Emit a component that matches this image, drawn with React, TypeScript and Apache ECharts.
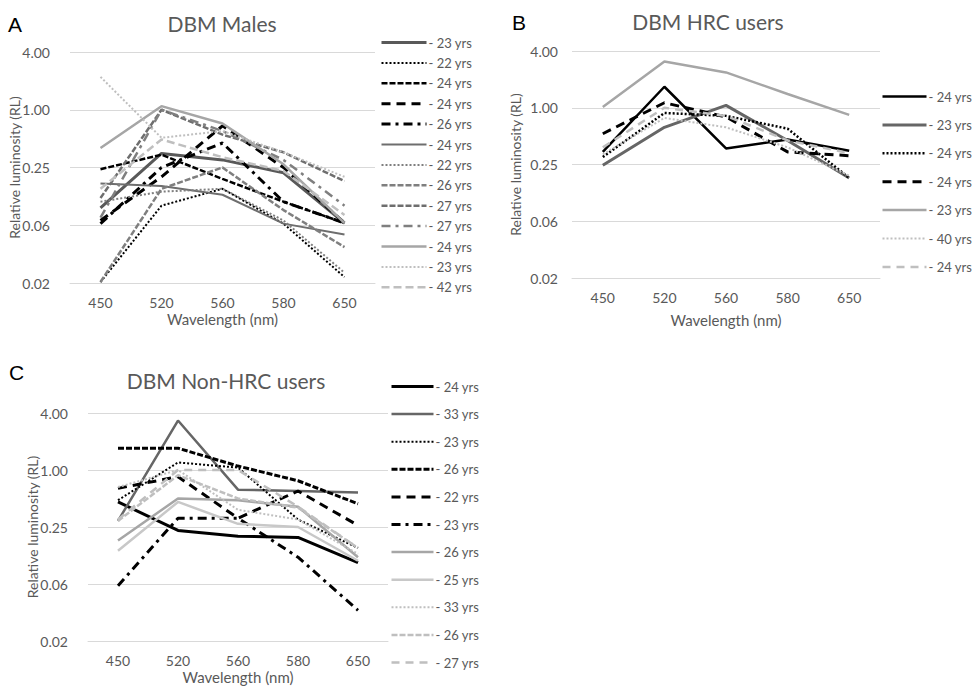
import React, { useEffect, useRef } from 'react';
import * as echarts from 'echarts';

// ---------- data ----------
const wavelengths = ['450', '520', '560', '580', '650'];
const yMin = 1 / 64;
const yMax = 4;

const malesAges = ['23', '22', '24', '24', '26', '24', '22', '26', '27', '27', '24', '23', '42'];
const malesRL = [
  [0.095, 0.35, 0.3, 0.22, 0.066],
  [0.016, 0.1, 0.15, 0.065, 0.018],
  [0.24, 0.34, 0.19, 0.11, 0.066],
  [0.07, 0.2, 0.68, 0.25, 0.066],
  [0.065, 0.25, 0.45, 0.11, 0.066],
  [0.17, 0.16, 0.13, 0.065, 0.05],
  [0.11, 0.14, 0.15, 0.07, 0.02],
  [0.016, 0.15, 0.25, 0.09, 0.037],
  [0.12, 1.0, 0.55, 0.36, 0.18],
  [0.075, 1.0, 0.6, 0.3, 0.1],
  [0.4, 1.09, 0.72, 0.27, 0.066],
  [2.2, 0.51, 0.6, 0.36, 0.2],
  [0.15, 0.49, 0.32, 0.23, 0.08],
];

const hrcAges = ['24', '23', '24', '24', '23', '40', '24'];
const hrcRL = [
  [0.34, 1.67, 0.37, 0.46, 0.35],
  [0.245, 0.62, 1.06, 0.45, 0.18],
  [0.3, 0.88, 0.82, 0.6, 0.18],
  [0.53, 1.13, 0.8, 0.34, 0.31],
  [1.02, 3.1, 2.37, 1.4, 0.84],
  [0.32, 0.78, 0.62, 0.38, 0.19],
  [0.38, 1.0, 0.82, 0.45, 0.33],
];

const nonHrcAges = ['24', '33', '23', '26', '22', '23', '26', '25', '33', '26', '27'];
const nonHrcRL = [
  [0.46, 0.23, 0.2, 0.194, 0.105],
  [0.29, 3.33, 0.62, 0.6, 0.58],
  [0.48, 1.2, 1.06, 0.3, 0.15],
  [1.7, 1.7, 1.1, 0.77, 0.44],
  [0.64, 0.85, 0.31, 0.6, 0.26],
  [0.06, 0.31, 0.31, 0.12, 0.033],
  [0.18, 0.5, 0.48, 0.41, 0.12],
  [0.14, 0.46, 0.27, 0.25, 0.11],
  [0.66, 1.0, 0.38, 0.3, 0.13],
  [0.29, 0.88, 0.5, 0.4, 0.15],
  [0.3, 1.0, 1.0, 0.41, 0.15],
];

// ---------- styles ----------
type LS = { color: string; width: number; type: any };
const DOT = [2, 2];
const SDASH = [6, 2];
const LDASH = [9, 6];
const DASHDOT = [9, 5, 3, 5];

const malesStyles: LS[] = [
  { color: '#595959', width: 3, type: 'solid' },
  { color: '#000000', width: 2, type: DOT },
  { color: '#000000', width: 2.5, type: SDASH },
  { color: '#000000', width: 3, type: LDASH },
  { color: '#000000', width: 3, type: DASHDOT },
  { color: '#6e6e6e', width: 2, type: 'solid' },
  { color: '#7f7f7f', width: 2, type: DOT },
  { color: '#7f7f7f', width: 2.5, type: SDASH },
  { color: '#6e6e6e', width: 2.5, type: SDASH },
  { color: '#7f7f7f', width: 2.5, type: DASHDOT },
  { color: '#a6a6a6', width: 2.5, type: 'solid' },
  { color: '#bfbfbf', width: 2, type: DOT },
  { color: '#bfbfbf', width: 2.5, type: [8, 4] },
];

const hrcStyles: LS[] = [
  { color: '#000000', width: 2.5, type: 'solid' },
  { color: '#666666', width: 3, type: 'solid' },
  { color: '#000000', width: 2.5, type: DOT },
  { color: '#000000', width: 3, type: LDASH },
  { color: '#a6a6a6', width: 2.5, type: 'solid' },
  { color: '#bfbfbf', width: 2, type: DOT },
  { color: '#bfbfbf', width: 2.5, type: [8, 6] },
];

const nonHrcStyles: LS[] = [
  { color: '#000000', width: 3, type: 'solid' },
  { color: '#666666', width: 2.5, type: 'solid' },
  { color: '#000000', width: 2, type: DOT },
  { color: '#000000', width: 3, type: SDASH },
  { color: '#000000', width: 3, type: LDASH },
  { color: '#000000', width: 3, type: DASHDOT },
  { color: '#a6a6a6', width: 2.5, type: 'solid' },
  { color: '#c8c8c8', width: 2.5, type: 'solid' },
  { color: '#bfbfbf', width: 2, type: DOT },
  { color: '#bfbfbf', width: 2.5, type: SDASH },
  { color: '#bfbfbf', width: 2.5, type: [8, 6] },
];

const FONT = 'Lato, "Open Sans", sans-serif';
const GRAY = '#595959';

function buildSeries(prefix: string, ages: string[], values: number[][], styles: LS[], idx: number) {
  return ages.map((age, i) => ({
    type: 'line',
    name: `${prefix}${i}|- ${age} yrs`,
    xAxisIndex: idx,
    yAxisIndex: idx,
    data: values[i],
    symbol: 'none',
    showSymbol: false,
    color: styles[i].color,
    itemStyle: { color: styles[i].color },
    lineStyle: { color: styles[i].color, width: styles[i].width, type: styles[i].type, cap: 'butt' },
    emphasis: { disabled: true },
  }));
}

function xAxis(idx: number, nameGap: number) {
  return {
    type: 'category',
    gridIndex: idx,
    data: wavelengths,
    boundaryGap: true,
    name: 'Wavelength (nm)',
    nameLocation: 'middle',
    nameGap,
    nameMoveOverlap: false,
    nameTextStyle: { fontSize: 15, color: GRAY, fontFamily: FONT },
    axisLine: { show: true, lineStyle: { color: '#d9d9d9' } },
    axisTick: { show: false },
    axisLabel: { fontSize: 14, color: GRAY, margin: 12, fontFamily: FONT },
    splitLine: { show: false },
  };
}

function yAxis(idx: number, nameGap: number, margin: number) {
  return {
    type: 'log',
    logBase: 4,
    gridIndex: idx,
    min: yMin,
    max: yMax,
    name: 'Relative luminosity (RL)',
    nameLocation: 'middle',
    nameRotate: 90,
    nameGap,
    nameMoveOverlap: false,
    nameTextStyle: { fontSize: 14, color: GRAY, fontFamily: FONT },
    axisLine: { show: false },
    axisTick: { show: false },
    axisLabel: {
      fontSize: 14,
      color: GRAY,
      margin,
      fontFamily: FONT,
      formatter: (v: number) => v.toFixed(2),
    },
    splitLine: { show: true, lineStyle: { color: '#d9d9d9', width: 1 } },
  };
}

function legend(prefix: string, ages: string[], left: number, top: number, gap: number, w: number) {
  return {
    orient: 'vertical',
    left,
    top,
    itemGap: gap,
    itemWidth: w,
    itemHeight: 14,
    padding: 0,
    selectedMode: false,
    data: ages.map((a, i) => `${prefix}${i}|- ${a} yrs`),
    formatter: (n: string) => n.split('|')[1],
    itemStyle: { opacity: 0, borderWidth: 0 },
    lineStyle: { width: 'inherit' },
    textStyle: { fontSize: 13, color: GRAY, fontFamily: FONT, padding: [0, 0, 0, -3] },
  };
}

function label(text: string, x: number, y: number, size: number, color: string, font: string, align = 'center') {
  return {
    type: 'text',
    x,
    y,
    style: {
      text,
      fill: color,
      font: `${size}px ${font}`,
      align,
      verticalAlign: 'middle',
      textAlign: align,
      textVerticalAlign: 'middle',
    },
  };
}

export default function App() {
  const ref = useRef<HTMLDivElement>(null);
  useEffect(() => {
    if (!ref.current) return;
    const chart = echarts.init(ref.current, undefined, { renderer: 'svg' });
    chart.setOption({
      animation: false,
      backgroundColor: '#ffffff',
      grid: [
        { left: 70, top: 52, width: 305, height: 231 },
        { left: 572, top: 51, width: 308, height: 227 },
        { left: 88, top: 413, width: 300, height: 228 },
      ],
      xAxis: [xAxis(0, 28), xAxis(1, 34), xAxis(2, 28)],
      yAxis: [yAxis(0, 49, 20), yAxis(1, 50, 14), yAxis(2, 49, 20)],
      legend: [
        legend('A', malesAges, 380, 36, 7.4, 45),
        legend('B', hrcAges, 881, 90, 15.4, 44),
        legend('C', nonHrcAges, 390, 380, 14.6, 42),
      ],
      series: [
        ...buildSeries('A', malesAges, malesRL, malesStyles, 0),
        ...buildSeries('B', hrcAges, hrcRL, hrcStyles, 1),
        ...buildSeries('C', nonHrcAges, nonHrcRL, nonHrcStyles, 2),
      ],
      graphic: [
        label('A', 8, 24, 21, '#000000', '"Liberation Sans", Arial, sans-serif', 'left'),
        label('B', 512, 22, 21, '#000000', '"Liberation Sans", Arial, sans-serif', 'left'),
        label('C', 9, 372, 21, '#000000', '"Liberation Sans", Arial, sans-serif', 'left'),
        label('DBM Males', 222, 23, 21, GRAY, FONT),
        label('DBM HRC users', 708, 21, 21, GRAY, FONT),
        label('DBM Non-HRC users', 226, 380, 21, GRAY, FONT),
      ],
    });
    return () => chart.dispose();
  }, []);
  return <div ref={ref} style={{ position: 'absolute', left: 0, top: 0, width: 975, height: 687 }} />;
}
